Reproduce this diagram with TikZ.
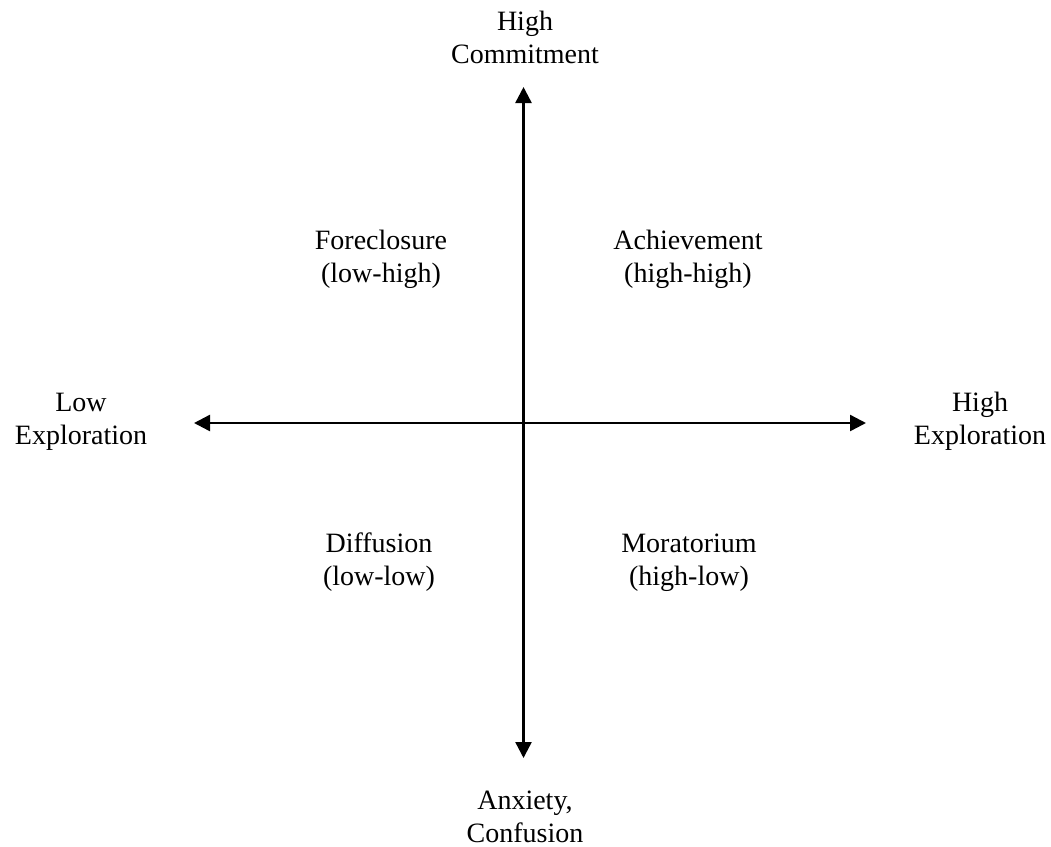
\documentclass[tikz,border=0pt]{standalone}
\usepackage{fontspec}
\setmainfont{Liberation Serif}
\usetikzlibrary{arrows.meta}
\begin{document}
\begin{tikzpicture}[x=1pt,y=-1pt,
  lbl/.style={align=center,inner sep=0pt,anchor=base,font=\fontsize{28}{33}\selectfont},
  axis/.style={line width=2.4pt,{Triangle[length=16pt,width=16pt]}-{Triangle[length=16pt,width=16pt]}}]
\useasboundingbox (0,0) rectangle (1051,846);
\coordinate (top) at (523.5,87);
\coordinate (bot) at (523.5,758);
\coordinate (lft) at (194,423);
\coordinate (rgt) at (866,423);
\draw[axis] (top) -- (bot);
\draw[axis] (lft) -- (rgt);
\node[lbl] (hc) at (525,63) {High\\Commitment};
\node[lbl] (ac) at (525,842) {Anxiety,\\Confusion};
\node[lbl] (le) at (81,444) {Low\\Exploration};
\node[lbl] (he) at (980,444) {High\\Exploration};
\node[lbl] (fo) at (381,282) {Foreclosure\\(low-high)};
\node[lbl] (achv) at (688,282) {Achievement\\(high-high)};
\node[lbl] (di) at (379,585) {Diffusion\\(low-low)};
\node[lbl] (mo) at (689,585) {Moratorium\\(high-low)};
\end{tikzpicture}
\end{document}
